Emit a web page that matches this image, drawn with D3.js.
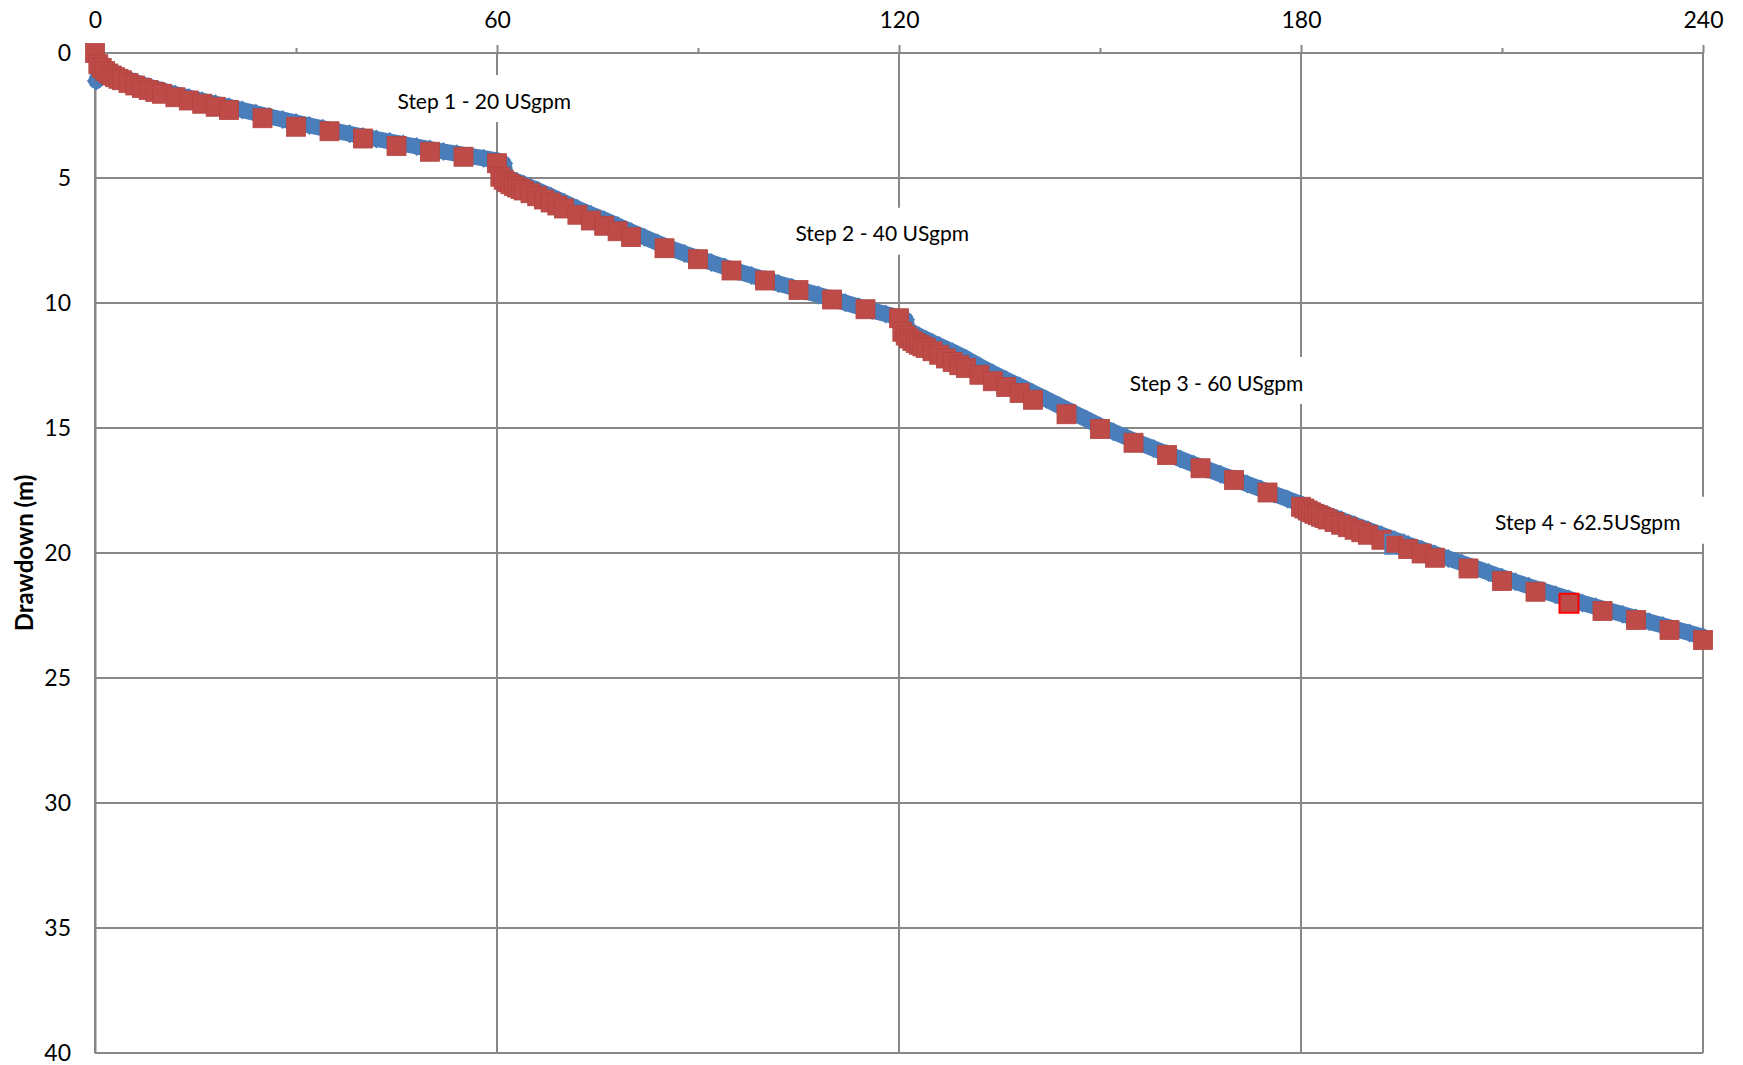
<!DOCTYPE html>
<html><head><meta charset="utf-8">
<script src="https://cdn.jsdelivr.net/npm/d3@7"></script>
<style>
body{margin:0;background:#fff}
svg text{font-family:Lato,"Open Sans",sans-serif;fill:#000}
</style>
</head><body>
<svg id="chart" width="1743" height="1065"></svg>
<script>
// ---------- data ----------
const xTicks = [0, 60, 120, 180, 240];
const xMinorTicks = [30, 90, 150, 210];
const yTicks = [0, 5, 10, 15, 20, 25, 30, 35, 40];
const yTitle = "Drawdown (m)";
const stepLabels = ["Step 1 - 20 USgpm", "Step 2 - 40 USgpm", "Step 3 - 60 USgpm", "Step 4 - 62.5USgpm"];

// manual readings (red squares), time in minutes
const manualTime = [
  0,0.5,1,1.5,2,2.5,3,3.5,4,5,6,7,8,9,10,12,14,16,18,20,25,30,35,40,45,50,55,60,
  60.5,61,61.5,62,62.5,63,63.5,64,65,66,67,68,69,70,72,74,76,78,80,85,90,95,100,105,110,115,120,
  120.5,121,121.5,122,122.5,123,123.5,124,125,126,127,128,129,130,132,134,136,138,140,145,150,155,160,165,170,175,180,
  180.5,181,181.5,182,182.5,183,183.5,184,185,186,187,188,189,190,192,194,196,198,200,205,210,215,220,225,230,235,240
];
const manualDrawdown = [
  0.0,0.45,0.6,0.72,0.82,0.9,0.97,1.03,1.09,1.2,1.3,1.4,1.48,1.56,1.63,1.77,1.9,2.03,2.15,2.28,2.61,2.95,3.13,3.42,3.72,3.95,4.15,4.41,
  4.95,5.07,5.17,5.25,5.32,5.38,5.44,5.5,5.61,5.73,5.86,5.98,6.1,6.22,6.47,6.7,6.91,7.13,7.36,7.81,8.25,8.7,9.1,9.48,9.86,10.25,10.61,
  11.15,11.3,11.42,11.52,11.6,11.67,11.74,11.8,11.93,12.07,12.22,12.36,12.49,12.6,12.87,13.13,13.36,13.6,13.87,14.45,15.04,15.59,16.08,16.61,17.08,17.58,18.15,
  18.22,18.3,18.37,18.43,18.49,18.55,18.6,18.66,18.76,18.87,18.97,19.07,19.17,19.27,19.47,19.65,19.84,20.02,20.19,20.62,21.12,21.55,22.01,22.32,22.68,23.08,23.48
];

// logger readings (blue diamonds)
const loggerTime = [
  0.2,1,2,3,4,6,8,10,12,14,16,18,20,22,24,26,28,30,32,34,36,38,40,42,44,46,48,50,52,54,56,58,60,61,
  61.3,62,63,64,65,66,68,70,72,74,76,78,80,82,84,86,88,90,92,94,96,98,100,102,104,106,108,110,112,114,116,118,120,121,
  121.3,122,123,124,125,126,128,130,132,134,136,138,140,142,144,146,148,150,152,154,156,158,160,162,164,166,168,170,172,174,176,178,180,
  182,184,186,188,190,192,194,196,198,200,202,204,206,208,210,212,214,216,218,220,222,224,226,228,230,232,234,236,238,240
];
const loggerDrawdown = [
  1.12,0.52,0.68,0.82,0.95,1.16,1.34,1.5,1.65,1.78,1.91,2.03,2.15,2.28,2.41,2.54,2.66,2.78,2.9,3.01,3.12,3.23,3.34,3.44,3.54,3.64,3.74,3.84,3.94,4.03,4.12,4.21,4.3,4.42,
  4.92,5.02,5.14,5.25,5.37,5.48,5.72,5.97,6.22,6.45,6.67,6.9,7.14,7.37,7.6,7.82,8.02,8.2,8.38,8.56,8.74,8.9,9.06,9.22,9.37,9.53,9.68,9.83,9.99,10.15,10.3,10.44,10.57,10.67,
  11.07,11.17,11.32,11.45,11.58,11.7,11.95,12.22,12.52,12.8,13.07,13.32,13.59,13.85,14.12,14.39,14.65,14.92,15.15,15.38,15.61,15.82,16.03,16.24,16.45,16.65,16.85,17.04,17.24,17.44,17.64,17.84,18.04,
  18.27,18.47,18.67,18.87,19.07,19.27,19.47,19.66,19.85,20.04,20.22,20.4,20.59,20.78,20.97,21.15,21.33,21.5,21.67,21.84,22.0,22.15,22.3,22.45,22.6,22.75,22.9,23.05,23.2,23.35
];

// ---------- layout ----------
const svg = d3.select("#chart");
const x = d3.scaleLinear().domain([0, 240]).range([95, 1703]);
const y = d3.scaleLinear().domain([0, 40]).range([53, 1053]);
const gridColor = "#878787";

// gridlines
const grid = svg.append("g");
grid.selectAll("line.h").data(yTicks).join("line")
  .attr("x1", x(0)).attr("x2", x(240))
  .attr("y1", d => y(d)).attr("y2", d => y(d))
  .attr("stroke", gridColor).attr("stroke-width", 2);
grid.selectAll("line.v").data(xTicks).join("line")
  .attr("x1", d => x(d)).attr("x2", d => x(d))
  .attr("y1", y(0)).attr("y2", y(40))
  .attr("stroke", gridColor).attr("stroke-width", 2);

// top axis (major + minor ticks)
const axTop = svg.append("g").attr("transform", `translate(0,${y(0)})`)
  .call(d3.axisTop(x).tickValues(xTicks).tickSize(8).tickPadding(17).tickFormat(d3.format("d")));
axTop.select(".domain").remove();
axTop.selectAll(".tick line").attr("stroke", gridColor).attr("stroke-width", 2);
axTop.selectAll(".tick text").attr("font-size", 23).style("font-family", "Lato");

const axMinor = svg.append("g").attr("transform", `translate(0,${y(0)})`)
  .call(d3.axisTop(x).tickValues(xMinorTicks).tickSize(5).tickFormat(""));
axMinor.select(".domain").remove();
axMinor.selectAll(".tick line").attr("stroke", gridColor).attr("stroke-width", 2);

// left axis labels
const axLeft = svg.append("g").attr("transform", `translate(${x(0)},0)`)
  .call(d3.axisLeft(y).tickValues(yTicks).tickSize(0).tickPadding(24).tickFormat(d3.format("d")));
axLeft.select(".domain").attr("stroke", gridColor).attr("stroke-width", 2);
axLeft.selectAll(".tick text").attr("font-size", 23).style("font-family", "Lato");

// y title
svg.append("text")
  .attr("transform", `translate(23,${(y(0)+y(40))/2}) rotate(-90)`)
  .attr("text-anchor", "middle").attr("dominant-baseline", "central")
  .attr("font-size", 24).attr("font-weight", "bold")
  .text(yTitle);

// step annotations (anchored in data coordinates)
const labelAnchors = [[58.1, 1.88], [117.5, 7.19], [167.4, 13.16], [222.8, 18.75]];
const ann = svg.append("g");
stepLabels.forEach((txt, i) => {
  const g = ann.append("g");
  const rect = g.append("rect").attr("fill", "#fff");
  const t = g.append("text")
    .attr("x", x(labelAnchors[i][0])).attr("y", y(labelAnchors[i][1]))
    .attr("text-anchor", "middle").attr("dominant-baseline", "central")
    .attr("font-size", 21).text(txt);
  const bb = t.node().getBBox();
  const cy = y(labelAnchors[i][1]);
  rect.attr("x", bb.x - 30).attr("width", bb.width + 60)
      .attr("y", cy - 25).attr("height", 47);
});

// blue logger series
const loggerPts = loggerTime.map((t, i) => [t, loggerDrawdown[i]]);
const blue = "#4a7ebb";
svg.append("path")
  .attr("d", d3.line().x(d => x(d[0])).y(d => y(d[1]))(loggerPts))
  .attr("fill", "none").attr("stroke", blue).attr("stroke-width", 16)
  .attr("stroke-linejoin", "round").attr("stroke-linecap", "round");
svg.append("g").selectAll("path").data(loggerPts).join("path")
  .attr("transform", d => `translate(${x(d[0])},${y(d[1])})`)
  .attr("d", d3.symbol(d3.symbolDiamond2, 230)())
  .attr("fill", blue);

// red manual series
const manualPts = manualTime.map((t, i) => [t, manualDrawdown[i]]);
const sq = 19;
const outlineStyle = t => t === 194 ? "#4f81bd" : (t === 220 ? "#ff0000" : "#b3443f");
svg.append("g").selectAll("rect").data(manualPts).join("rect")
  .attr("x", d => x(d[0]) - sq/2).attr("y", d => y(d[1]) - sq/2)
  .attr("width", sq).attr("height", sq)
  .attr("fill", "#be4b48")
  .attr("stroke", d => outlineStyle(d[0]))
  .attr("stroke-width", d => (d[0] === 194 || d[0] === 220) ? 2 : 0.8);
</script>
</body></html>
